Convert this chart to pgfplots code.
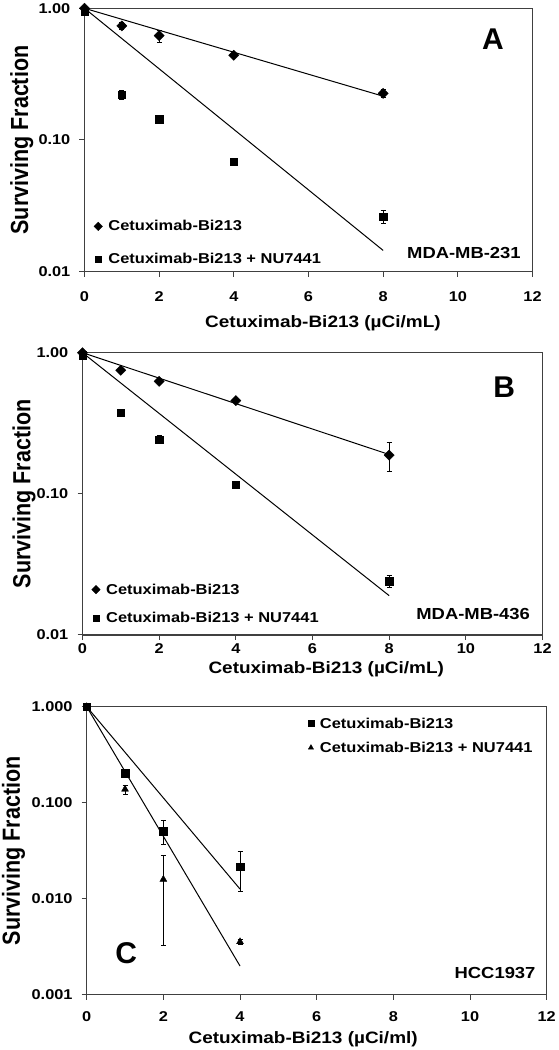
\documentclass[border=0pt]{standalone}
\usepackage{pgfplots}
\pgfplotsset{compat=1.18}
\usepackage{fontspec}
\setmainfont{Liberation Sans}
\newfontfamily\lsx{Liberation Sans}[FakeStretch=1.15]
\newcommand\fTick{\lsx\bfseries\fontsize{14.2bp}{16bp}\selectfont}
\newcommand\fLeg{\lsx\bfseries\fontsize{14.3bp}{16bp}\selectfont}
\newcommand\fXl{\lsx\bfseries\fontsize{16.5bp}{19bp}\selectfont}
\newcommand\fYl{\bfseries\fontsize{21.5bp}{24bp}\selectfont}
\newcommand\fPan{\bfseries\fontsize{30bp}{34bp}\selectfont}
\newcommand\fCell{\lsx\bfseries\fontsize{16bp}{19bp}\selectfont}
\newcommand\ylab{\scalebox{1}[1.15]{Surviving Fraction}}
\newcommand\lgA{{\fLeg Cetuximab-Bi213}}
\newcommand\lgB{{\fLeg Cetuximab-Bi213 + NU7441}}
\pgfplotsset{
  every axis/.append style={scale only axis, xmin=0, xmax=12,
    xtick={0,2,4,6,8,10,12}, xticklabels={0,2,4,6,8,10,12},
    tick align=outside, xtick pos=bottom, ytick pos=left, yminorticks=false, xminorticks=false,
    major tick length=5bp, tick style={line width=1bp, black!75},
    axis line style={line width=1.1bp, black!75},
    xticklabel style={font=\fTick, anchor=center, inner sep=0pt},
    yticklabel style={font=\fTick, anchor=east, inner sep=0pt, xshift=-9bp},
    clip=false, legend cell align=left},
  myerrs/.style={error bars/y dir=both, error bars/y explicit, error bars/error mark=-, error bars/error mark options={rotate=90, mark size=2.5bp, line width=0.8bp}, error bars/error bar style={line width=0.8bp}},
  mylegimg/.style={legend image code/.code={\draw[##1,mark size=3bp] plot coordinates {(0bp,0bp)};}},
}
\begin{document}
\begin{tikzpicture}
\path[use as bounding box] (0,0) rectangle (559bp,1050bp);
% ---------------- Panel A ----------------
\begin{axis}[at={(84.5bp,778.3bp)}, anchor=south west, width=448bp, height=263.4bp,
  ymode=log, ymin=0.01, ymax=1, ytick={0.01,0.1,1}, yticklabels={0.01,0.10,1.00},
  xticklabel style={yshift=-20bp},
  xlabel={Cetuximab-Bi213 (µCi/mL)}, xlabel style={font=\fXl, inner sep=0pt, at={(axis description cs:0.269,-0.197)}, anchor=west},
  ylabel={\ylab}, ylabel style={font=\fYl, at={(axis description cs:-0.140,0.5)}, anchor=center},
  legend style={at={(axis description cs:0.0212,0.1945)}, anchor=north west, draw=none, fill=none, inner sep=0pt, outer sep=0pt, row sep=21.2bp, column sep=6bp, font=\fLeg, nodes={inner sep=0pt, font=\fLeg}},
]
\addplot[myerrs, only marks, mylegimg, mark=square*, mark size=3.6bp, mark options={rotate=45, fill=black, draw=black}] coordinates {(0,1) (1,0.735) +- (0,0.045) (2,0.62) +- (0,0.065) (4,0.44) +- (0,0.015) (8,0.226) +- (0,0.016)};
\addlegendentry{\lgA}
\addplot[myerrs, only marks, mylegimg, mark=square*, mark size=3.8bp, mark options={fill=black, draw=black}] coordinates {(0,0.944) (1,0.221) +- (0,0.017) (2,0.1436) +- (0,0.006) (4,0.0685) +- (0,0.002) (8,0.0262) +- (0,0.003)};
\addlegendentry{\lgB}
\addplot[black, line width=1bp, no marks, forget plot] coordinates {(0,1) (8,0.215)};
\addplot[black, line width=1bp, no marks, forget plot] coordinates {(0,1) (8,0.0145)};
\node[font=\fPan, anchor=center] at (axis description cs:0.912,0.883) {A};
\node[font=\fCell, anchor=east, inner sep=0pt] at (axis description cs:0.974,0.071) {MDA-MB-231};
\end{axis}
% ---------------- Panel B ----------------
\begin{axis}[at={(82.5bp,415bp)}, anchor=south west, width=460bp, height=282.3bp,
  ymode=log, ymin=0.01, ymax=1, ytick={0.01,0.1,1}, yticklabels={0.01,0.10,1.00},
  xticklabel style={yshift=-9bp},
  xlabel={Cetuximab-Bi213 (µCi/mL)}, xlabel style={font=\fXl, inner sep=0pt, at={(axis description cs:0.2735,-0.120)}, anchor=west},
  ylabel={\ylab}, ylabel style={font=\fYl, at={(axis description cs:-0.127,0.5)}, anchor=center},
  legend style={at={(axis description cs:0.020,0.1816)}, anchor=north west, draw=none, fill=none, inner sep=0pt, outer sep=0pt, row sep=16.2bp, column sep=6bp, font=\fLeg, nodes={inner sep=0pt, font=\fLeg}},
]
\addplot[myerrs, only marks, mylegimg, mark=square*, mark size=3.6bp, mark options={rotate=45, fill=black, draw=black}] coordinates {(0,1) (1,0.751) +- (0,0.012) (2,0.627) +- (0,0.012) (4,0.458) +- (0,0.01) (8,0.188) +- (0,0.043)};
\addlegendentry{\lgA}
\addplot[myerrs, only marks, mylegimg, mark=square*, mark size=3.8bp, mark options={fill=black, draw=black}] coordinates {(0,0.96) (1,0.376) +- (0,0.008) (2,0.242) +- (0,0.016) (4,0.116) +- (0,0.007) (8,0.0241) +- (0,0.0022)};
\addlegendentry{\lgB}
\addplot[black, line width=1bp, no marks, forget plot] coordinates {(0,1) (8,0.19)};
\addplot[black, line width=1bp, no marks, forget plot] coordinates {(0,1) (8,0.019)};
\node[font=\fPan, anchor=center] at (axis description cs:0.917,0.8796) {B};
\node[font=\fCell, anchor=east, inner sep=0pt] at (axis description cs:0.973,0.0744) {MDA-MB-436};
\end{axis}
% ---------------- Panel C ----------------
\begin{axis}[at={(86.7bp,55.3bp)}, anchor=south west, width=460bp, height=288bp,
  ymode=log, ymin=0.001, ymax=1, ytick={0.001,0.01,0.1,1}, yticklabels={0.001,0.010,0.100,1.000},
  xticklabel style={yshift=-16.7bp},
  xlabel={Cetuximab-Bi213 (µCi/ml)}, xlabel style={font=\fXl, inner sep=0pt, at={(axis description cs:0.221,-0.154)}, anchor=west},
  ylabel={\ylab}, ylabel style={font=\fYl, at={(axis description cs:-0.159,0.5)}, anchor=center},
  legend style={at={(axis description cs:0.481,0.962)}, anchor=north west, draw=none, fill=none, inner sep=0pt, outer sep=0pt, row sep=12.2bp, column sep=6bp, font=\fLeg, nodes={inner sep=0pt, font=\fLeg}},
]
\addplot[myerrs, only marks, mylegimg, mark=square*, mark size=3.8bp, mark options={fill=black, draw=black}] coordinates {(0,1) (1,0.202) +- (0,0.01) (2,0.0507) +- (0,0.0143) (4,0.0216) +- (0,0.0098)};
\addlegendentry{\lgA}
\addplot[myerrs, only marks, mylegimg, mark=triangle*, mark size=4bp, mark options={fill=black, draw=black}] coordinates {(0,1) (1,0.138) +- (0,0.015) (2,0.0159) +- (0,0.0126) (4,0.00356) +- (0,0.0002)};
\addlegendentry{\lgB}
\addplot[black, line width=1bp, no marks, forget plot] coordinates {(0,1) (4,0.0126)};
\addplot[black, line width=1bp, no marks, forget plot] coordinates {(0,1) (4,0.00199)};
\node[font=\fPan, anchor=center] at (axis description cs:0.0861,0.145) {C};
\node[font=\fCell, anchor=east, inner sep=0pt] at (axis description cs:0.976,0.074) {HCC1937};
\end{axis}
\end{tikzpicture}
\end{document}
